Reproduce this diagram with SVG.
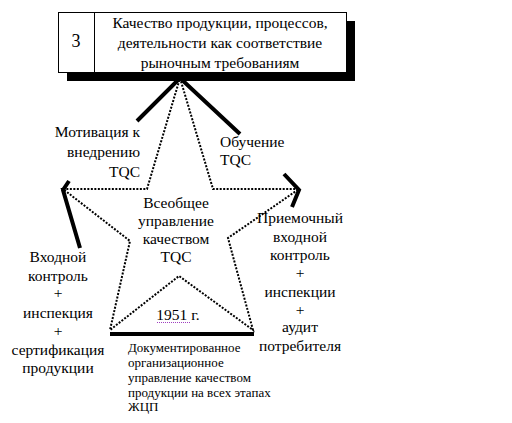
<svg xmlns="http://www.w3.org/2000/svg" width="512" height="423" viewBox="0 0 512 423">
<style>
.thick{stroke:#000;stroke-width:4;fill:none;}
.dot{stroke:#000;stroke-width:2;stroke-dasharray:2 1.5;fill:none;}
</style>
<rect width="512" height="423" fill="#fff"/>
<g id="header">
<rect x="67" y="21" width="288" height="60" fill="#000"/>
<rect x="58.5" y="12.5" width="288" height="60" fill="#fff" stroke="#000"/>
<line x1="94.5" y1="12.5" x2="94.5" y2="72.5" stroke="#000"/>
<text x="76" y="47" text-anchor="middle" font-family="Liberation Serif" font-size="18">3</text>
<text x="220" y="28" text-anchor="middle" font-family="Liberation Serif" font-size="15.5">Качество продукции, процессов,</text>
<text x="220" y="48" text-anchor="middle" font-family="Liberation Serif" font-size="15.5">деятельности как соответствие</text>
<text x="220" y="68" text-anchor="middle" font-family="Liberation Serif" font-size="15.5">рыночным требованиям</text>
</g>
<g id="connectors">
<polyline class="thick" points="137,121 180,78 240,134"/>
<polyline class="thick" points="69,181 63,190 80,248"/>
<polyline class="thick" points="284,174 299,190 292,207"/>
<line class="thick" x1="110" y1="334" x2="254" y2="334" stroke-width="3.5"/>
</g>
<g id="star">
<polygon class="dot" points="180,78 213,189 299,189 228,238 253,330 179,276 110,330 130,241 63,189 147,189"/>
<text x="176" y="208" text-anchor="middle" font-family="Liberation Serif" font-size="15.5">Всеобщее</text>
<text x="176" y="226" text-anchor="middle" font-family="Liberation Serif" font-size="15.5">управление</text>
<text x="176" y="244" text-anchor="middle" font-family="Liberation Serif" font-size="15.5">качеством</text>
<text x="176" y="262" text-anchor="middle" font-family="Liberation Serif" font-size="15.5">TQC</text>
<text x="178" y="320" text-anchor="middle" font-family="Liberation Serif" font-size="15.5">1951 г.</text>
<line x1="157" y1="322.5" x2="190" y2="322.5" stroke="#a040c0" stroke-width="1" stroke-dasharray="1 1"/>
</g>
<g id="motivation">
<text x="140" y="137" text-anchor="end" font-family="Liberation Serif" font-size="15.5">Мотивация к</text>
<text x="140" y="157" text-anchor="end" font-family="Liberation Serif" font-size="15.5">внедрению</text>
<text x="140" y="177" text-anchor="end" font-family="Liberation Serif" font-size="15.5">TQC</text>
</g>
<g id="training">
<text x="220" y="147" font-family="Liberation Serif" font-size="15.5">Обучение</text>
<text x="220" y="165" font-family="Liberation Serif" font-size="15.5">TQC</text>
</g>
<g id="input-control">
<text x="58" y="262" text-anchor="middle" font-family="Liberation Serif" font-size="15.5">Входной</text>
<text x="58" y="281" text-anchor="middle" font-family="Liberation Serif" font-size="15.5">контроль</text>
<text x="58" y="298" text-anchor="middle" font-family="Liberation Serif" font-size="15.5">+</text>
<text x="58" y="318" text-anchor="middle" font-family="Liberation Serif" font-size="15.5">инспекция</text>
<text x="58" y="336" text-anchor="middle" font-family="Liberation Serif" font-size="15.5">+</text>
<text x="58" y="355" text-anchor="middle" font-family="Liberation Serif" font-size="15.5">сертификация</text>
<text x="58" y="373" text-anchor="middle" font-family="Liberation Serif" font-size="15.5">продукции</text>
</g>
<g id="acceptance">
<text x="300" y="223" text-anchor="middle" font-family="Liberation Serif" font-size="15.5">Приемочный</text>
<text x="300" y="242" text-anchor="middle" font-family="Liberation Serif" font-size="15.5">входной</text>
<text x="300" y="260" text-anchor="middle" font-family="Liberation Serif" font-size="15.5">контроль</text>
<text x="300" y="278" text-anchor="middle" font-family="Liberation Serif" font-size="15.5">+</text>
<text x="300" y="297" text-anchor="middle" font-family="Liberation Serif" font-size="15.5">инспекции</text>
<text x="300" y="315" text-anchor="middle" font-family="Liberation Serif" font-size="15.5">+</text>
<text x="300" y="332" text-anchor="middle" font-family="Liberation Serif" font-size="15.5">аудит</text>
<text x="300" y="351" text-anchor="middle" font-family="Liberation Serif" font-size="15.5">потребителя</text>
</g>
<g id="documented">
<text x="128" y="352" font-family="Liberation Serif" font-size="13">Документированное</text>
<text x="128" y="367" font-family="Liberation Serif" font-size="13">организационное</text>
<text x="128" y="382" font-family="Liberation Serif" font-size="13">управление качеством</text>
<text x="128" y="397" font-family="Liberation Serif" font-size="13">продукции на всех этапах</text>
<text x="128" y="411" font-family="Liberation Serif" font-size="13">ЖЦП</text>
</g>
</svg>
